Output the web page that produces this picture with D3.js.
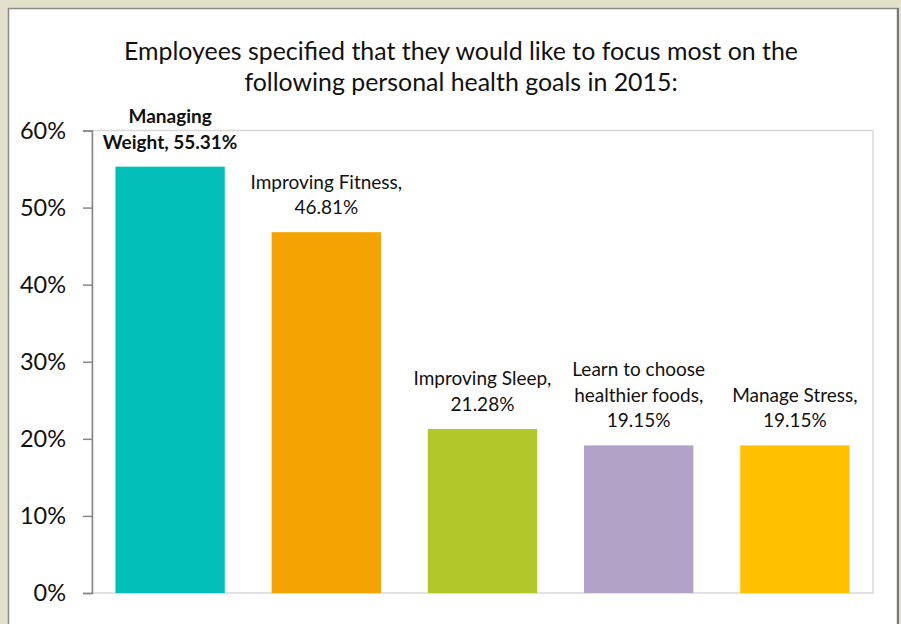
<!DOCTYPE html>
<html>
<head>
<meta charset="utf-8">
<script src="https://cdnjs.cloudflare.com/ajax/libs/d3/7.8.5/d3.min.js"></script>
<style>
  body { margin: 0; background: #e3e0cc; }
  svg { display: block; }
</style>
</head>
<body>
<div id="chart"></div>
<script>
// chart values
var categories = ["Managing Weight", "Improving Fitness", "Improving Sleep", "Learn to choose healthier foods", "Manage Stress"];
var values = [55.31, 46.81, 21.28, 19.15, 19.15];
var labelLines = [
  ["Managing", "Weight, 55.31%"],
  ["Improving Fitness,", "46.81%"],
  ["Improving Sleep,", "21.28%"],
  ["Learn to choose", "healthier foods,", "19.15%"],
  ["Manage Stress,", "19.15%"]
];
var boldLabel = [true, false, false, false, false];
var colors = ["#02bfb9", "#f5a303", "#b2c72a", "#b2a2c7", "#ffc000"];
var yTicks = [0, 10, 20, 30, 40, 50, 60];
var titleLines = ["Employees specified that they would like to focus most on the",
                  "following personal health goals in 2015:"];

var W = 901, H = 624;
var plot = { left: 92, right: 873, top: 130.5, bottom: 593 };

var svg = d3.select("#chart").append("svg")
  .attr("width", W)
  .attr("height", H);

// outer panel
svg.append("rect")
  .attr("x", 8.5).attr("y", 8.5)
  .attr("width", 889).attr("height", H)
  .attr("fill", "#fff")
  .attr("stroke", "#8a8a8a")
  .attr("stroke-width", 1.5);
svg.append("line")
  .attr("x1", 898).attr("x2", 898)
  .attr("y1", 8).attr("y2", H)
  .attr("stroke", "#7a7a7a").attr("stroke-width", 2);

// title
svg.append("g").selectAll("text")
  .data(titleLines)
  .enter().append("text")
  .attr("x", 461)
  .attr("y", function (d, i) { return 60 + i * 31; })
  .attr("text-anchor", "middle")
  .attr("font-family", "Lato, sans-serif")
  .attr("font-size", 24.9)
  .attr("fill", "#111")
  .text(function (d) { return d; });

var x = d3.scaleBand()
  .domain(categories)
  .range([plot.left, plot.right])
  .paddingInner(0.3)
  .paddingOuter(0.15);

var y = d3.scaleLinear()
  .domain([0, 60])
  .range([plot.bottom, plot.top]);

// plot area border
svg.append("rect")
  .attr("x", plot.left).attr("y", plot.top)
  .attr("width", plot.right - plot.left)
  .attr("height", plot.bottom - plot.top)
  .attr("fill", "none")
  .attr("stroke", "#d9d9d9")
  .attr("stroke-width", 1.5);

// y axis
var yAxis = d3.axisLeft(y)
  .tickValues(yTicks)
  .tickFormat(function (d) { return d + "%"; })
  .tickSize(9)
  .tickPadding(17);

var ax = svg.append("g")
  .attr("transform", "translate(" + plot.left + ",0)")
  .call(yAxis);
ax.select(".domain").attr("stroke", "#868686").attr("stroke-width", 1.5);
ax.selectAll(".tick line").attr("stroke", "#868686").attr("stroke-width", 1.5);
ax.selectAll(".tick text")
  .attr("font-family", "Lato, sans-serif")
  .attr("font-size", 23.5)
  .attr("fill", "#111");

// bars
svg.append("g").selectAll("rect")
  .data(values)
  .enter().append("rect")
  .attr("x", function (d, i) { return x(categories[i]); })
  .attr("y", function (d) { return y(d); })
  .attr("width", x.bandwidth())
  .attr("height", function (d) { return y(0) - y(d); })
  .attr("fill", function (d, i) { return colors[i]; });

// data labels
var lg = svg.append("g").selectAll("text")
  .data(values)
  .enter().append("text")
  .attr("text-anchor", "middle")
  .attr("font-family", "Lato, sans-serif")
  .attr("font-size", 19)
  .attr("font-weight", function (d, i) { return boldLabel[i] ? "bold" : "normal"; })
  .attr("fill", "#111");

lg.each(function (d, i) {
  var t = d3.select(this);
  var lines = labelLines[i];
  var cx = x(categories[i]) + x.bandwidth() / 2;
  var base = y(d) - 18;
  lines.forEach(function (line, k) {
    t.append("tspan")
      .attr("x", cx)
      .attr("y", base - (lines.length - 1 - k) * 25.5)
      .text(line);
  });
});
</script>
</body>
</html>
